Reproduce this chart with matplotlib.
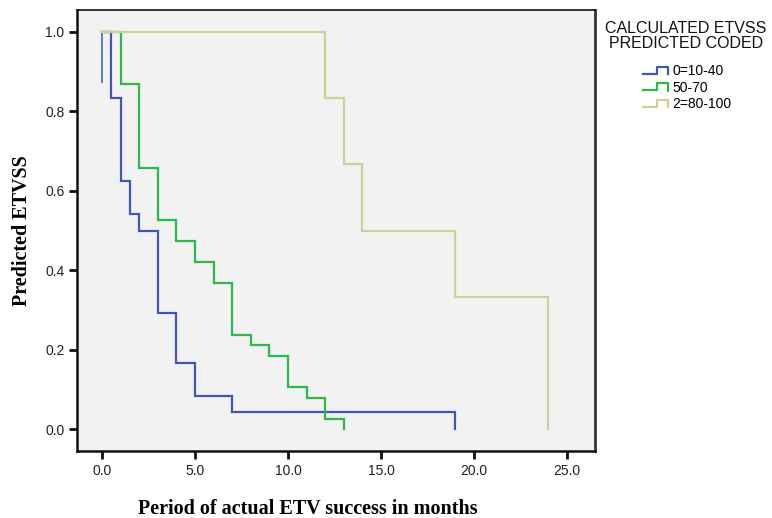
from matplotlib import pyplot as plt
from matplotlib.lines import Line2D
from matplotlib.legend_handler import HandlerBase
import numpy as np

# Kaplan-Meier style step curves (time in months, survival after each event)
blue_t = [0.5, 1, 1.5, 2, 3, 4, 5, 7, 19]
blue_s = [0.833, 0.625, 0.542, 0.5, 0.292, 0.167, 0.083, 0.042, 0.0]
blue_first_drop = 0.875

green_t = [1, 2, 3, 4, 5, 6, 7, 8, 9, 10, 11, 12, 13]
green_s = [0.868, 0.658, 0.526, 0.474, 0.421, 0.368, 0.237, 0.211, 0.184,
           0.105, 0.079, 0.026, 0.0]

yellow_t = [12, 13, 14, 19, 24]
yellow_s = [0.833, 0.667, 0.5, 0.333, 0.0]

labels = ['0=10-40', '50-70', '2=80-100']
colors = ['#4257B2', '#2DB84A', '#D3CE97']

xticks = [0, 5, 10, 15, 20, 25]
yticks = [0, 0.2, 0.4, 0.6, 0.8, 1.0]


def step_xy(t, s):
    prev = [1.0] + list(s[:-1])
    xs = [0.0]
    ys = [1.0]
    for ti, p, si in zip(t, prev, s):
        xs += [ti, ti]
        ys += [p, si]
    return xs, ys


class StepHandler(HandlerBase):
    def create_artists(self, legend, orig_handle, xdescent, ydescent,
                       width, height, fontsize, trans):
        x0 = -xdescent
        y0 = -ydescent
        xs = [x0, x0 + 0.56 * width, x0 + 0.56 * width, x0 + width, x0 + width]
        ys = [y0 + 0.15 * height, y0 + 0.15 * height, y0 + 0.85 * height,
              y0 + 0.85 * height, y0 + 0.1 * height]
        ln = Line2D(xs, ys, color=orig_handle.get_color(), lw=1.6,
                    transform=trans)
        return [ln]


plt.rcParams['font.family'] = ['Liberation Sans', 'DejaVu Sans']

fig = plt.figure(figsize=(7.72, 5.18), dpi=100)
axes = fig.add_axes([0.0997, 0.1293, 0.671, 0.8514])
axes.set_facecolor('#F2F2F2')

handles = []
for t, s, c in zip([blue_t, green_t, yellow_t], [blue_s, green_s, yellow_s], colors):
    xs, ys = step_xy(t, s)
    ln, = axes.plot(xs, ys, color=c, lw=1.6, solid_joinstyle='miter')
    handles.append(ln)

# small initial drop of the first group at time zero
axes.plot([0, 0], [blue_first_drop, 1.0], color=colors[0], lw=1.4, alpha=0.8)
# keep the top line of the last group above the others
handles[2].set_zorder(3)

axes.set_xlim(-1.34, 26.5)
axes.set_ylim(-0.0554, 1.0554)
axes.set_xticks(xticks)
axes.set_xticklabels(['%.1f' % v for v in xticks])
axes.set_yticks(yticks)
axes.set_yticklabels(['%.1f' % v for v in yticks])
axes.tick_params(direction='out', length=6, width=2, color='#111111',
                 labelsize=10, labelcolor='#222222', pad=3)

for side in ['left', 'bottom']:
    axes.spines[side].set_linewidth(1.8)
    axes.spines[side].set_color('#111111')
axes.spines['top'].set_linewidth(1.2)
axes.spines['top'].set_color('#111111')
axes.spines['right'].set_linewidth(2)
axes.spines['right'].set_color('#333333')

axes.set_xlabel('Period of actual ETV success in months', fontsize=14.5,
                family='Liberation Serif', fontweight='bold')
axes.set_ylabel('Predicted ETVSS', fontsize=14.5,
                family='Liberation Serif', fontweight='bold')
axes.xaxis.set_label_coords(0.445, -0.108)
axes.yaxis.set_label_coords(-0.086, 0.5)

# legend title and entries
fig.text(686 / 772.0, 1 - 36 / 518.0, 'CALCULATED ETVSS\nPREDICTED CODED',
         ha='center', va='center', fontsize=11.5, linespacing=1.05,
         multialignment='center', color='#111111')
leg = fig.legend(handles, labels, loc='upper center',
                 bbox_to_anchor=(687 / 772.0, 1 - 64 / 518.0),
                 fontsize=10, frameon=False,
                 handlelength=1.8, handletextpad=0.3, labelspacing=0.18,
                 borderpad=0, borderaxespad=0,
                 handler_map={Line2D: StepHandler()})

fig.savefig('out.png', dpi=100)
